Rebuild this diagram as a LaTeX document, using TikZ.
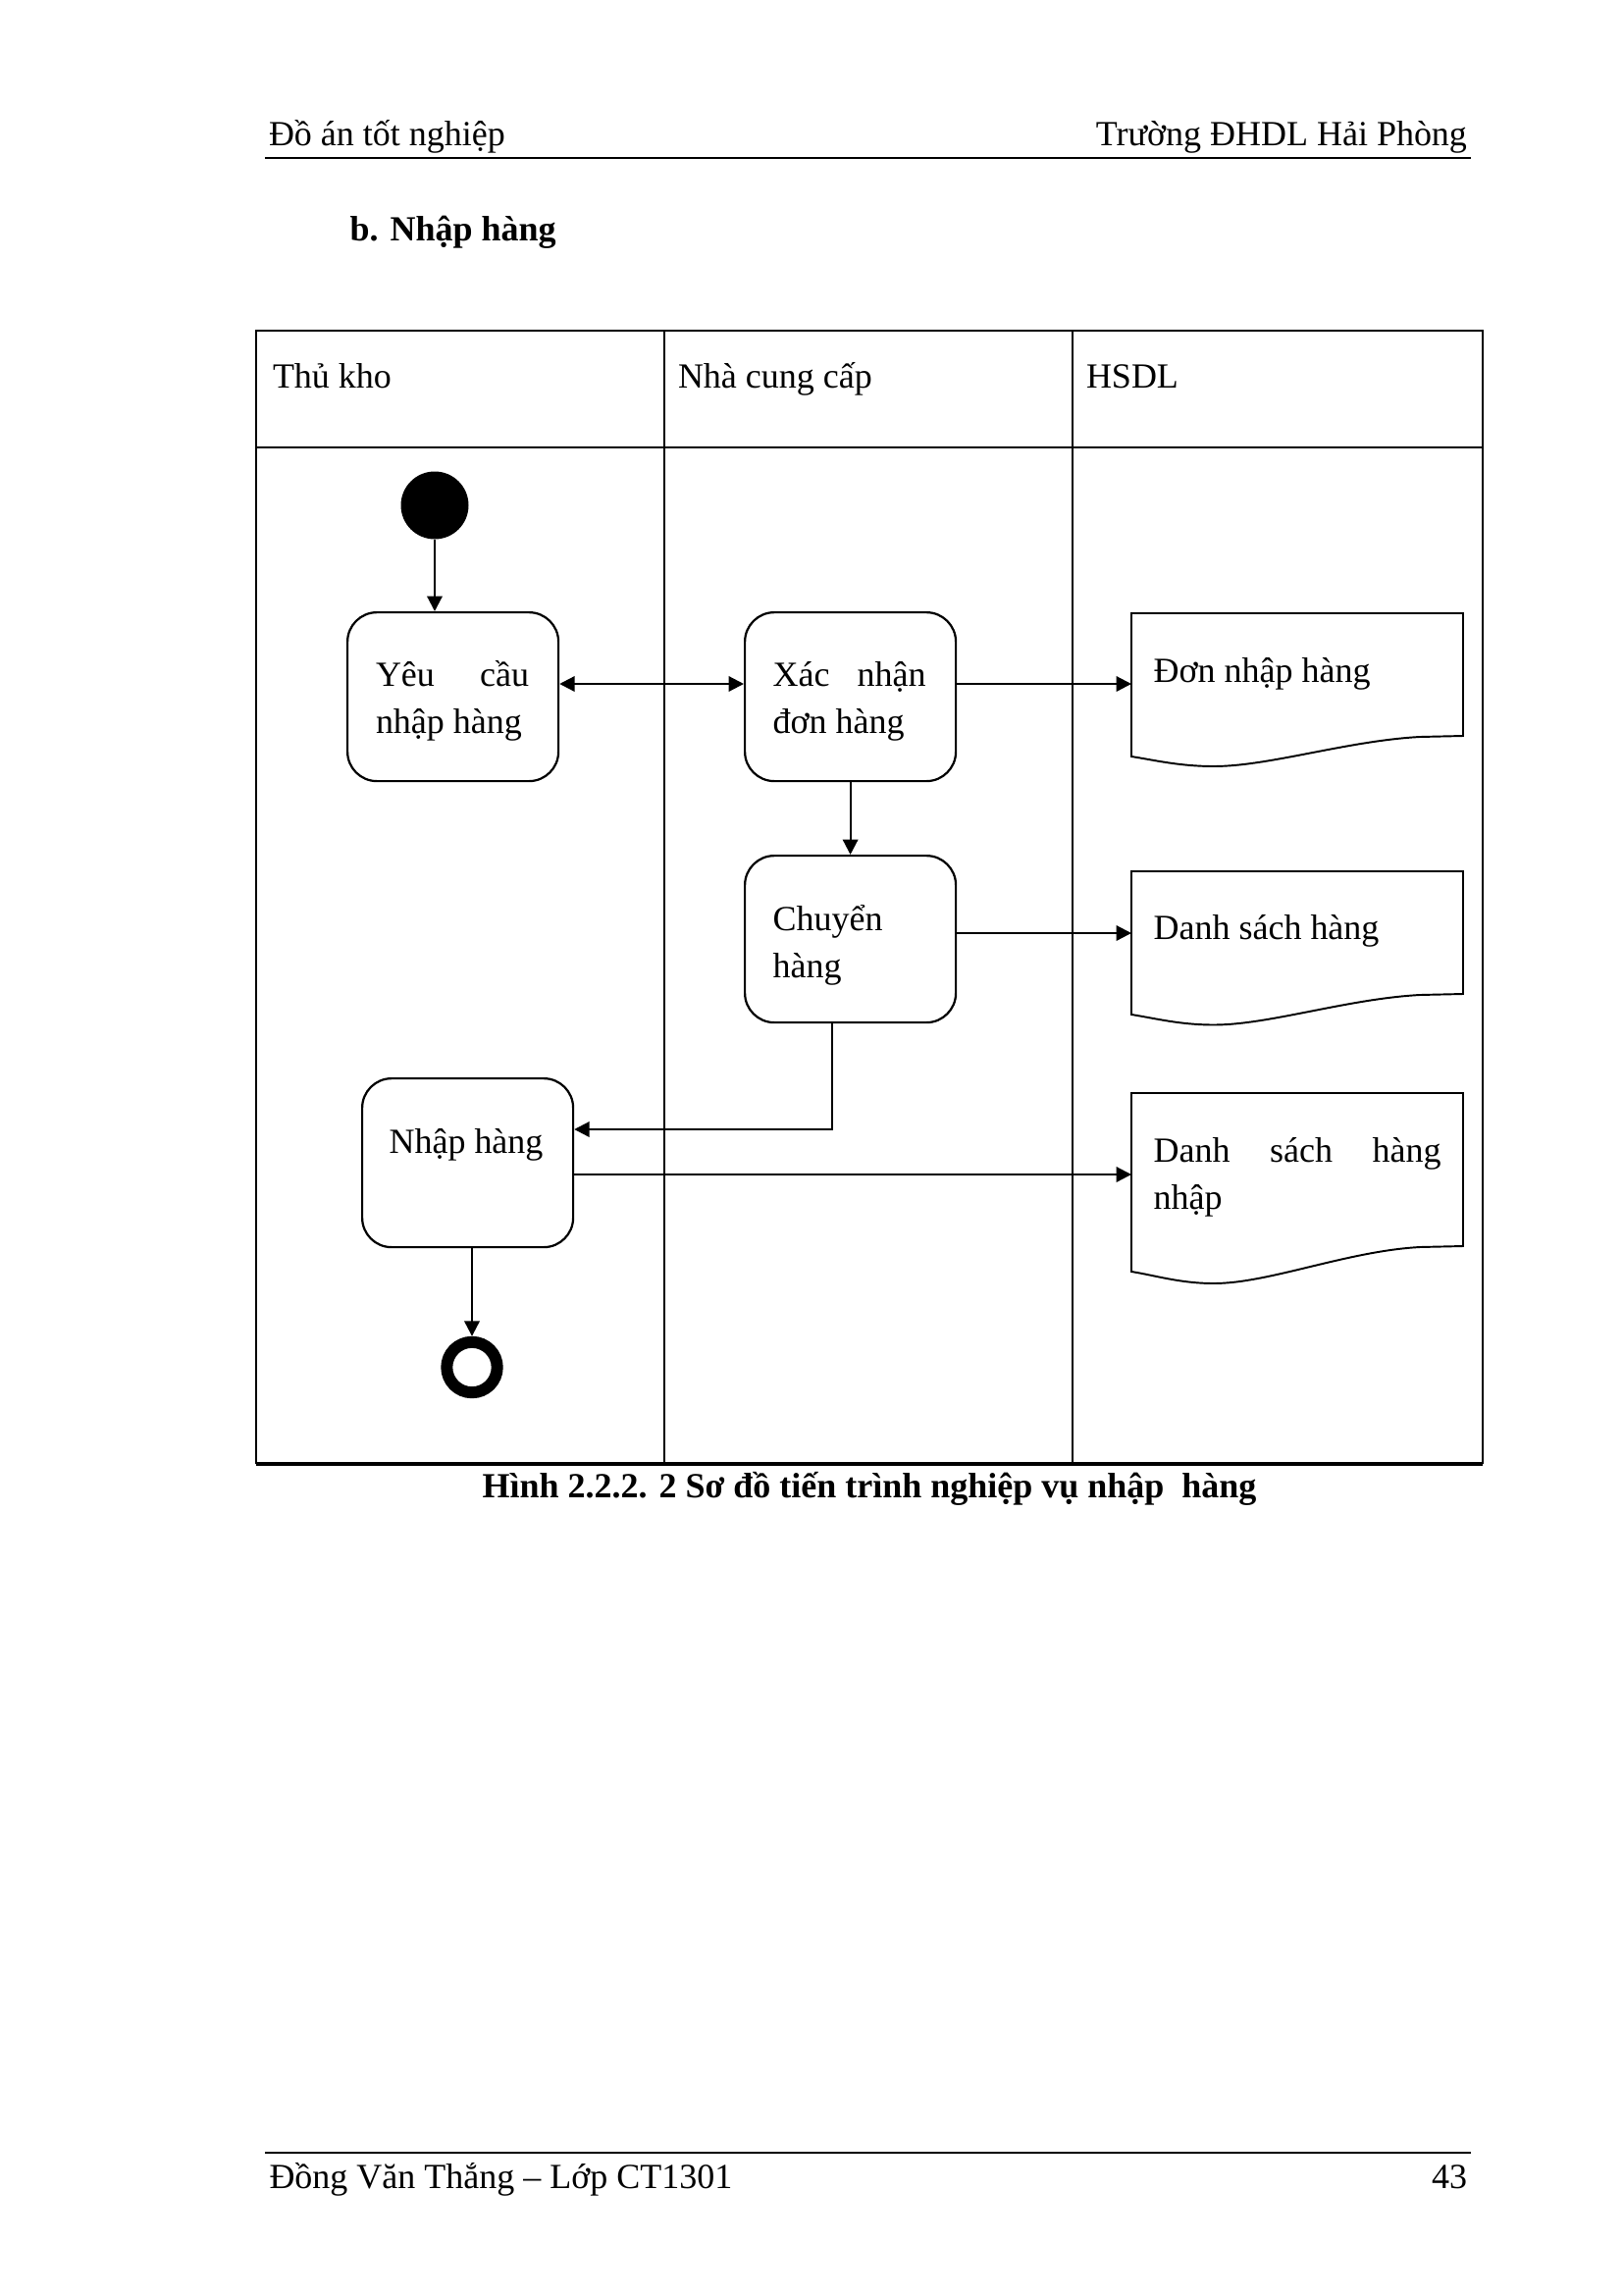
\documentclass[tikz,border=0pt]{standalone}
\usepackage{fontspec}
\setmainfont{Liberation Serif}
\usetikzlibrary{arrows.meta}
% one unit of the drawing grid (A4 page width split into 1654 steps)
\newlength\pxu
\setlength\pxu{0.126965mm}
\hyphenpenalty=10000
\exhyphenpenalty=10000
\tolerance=10000
\begin{document}
\begin{tikzpicture}[x=0.126965mm, y=-0.126965mm,
  txt/.style={font=\fontsize{13pt}{17.6pt}\selectfont, inner sep=0pt, outer sep=0pt},
  bold/.style={font=\fontsize{13pt}{17.6pt}\selectfont\bfseries, inner sep=0pt},
  para/.style={txt, text width=156\pxu, align=justify, anchor=base west},
  act/.style={draw, line width=0.8pt, rounded corners=30\pxu, minimum width=215\pxu,
              anchor=north west, inner sep=0pt},
  docbox/.style={minimum width=338\pxu, anchor=north west, inner sep=0pt, outer sep=0pt},
  docline/.style={line width=0.7pt, line join=miter},
  lane/.style={line width=0.75pt},
  tip/.tip={Triangle[length=5.6pt, width=5.6pt]},
  arr/.style={-tip, line width=0.8pt},
  arrboth/.style={tip-tip, line width=0.8pt}]

\useasboundingbox (0,0) rectangle (1654,2339);

% page header and footer
\node[txt, anchor=base west] (hl) at (274,149) {Đồ án tốt nghiệp};
\node[txt, anchor=base east] (hr) at (1495,149) {Trường ĐHDL Hải Phòng};
\draw[line width=0.5pt] (270,161) -- (1499,161);
\draw[line width=0.5pt] (270,2194) -- (1499,2194);
\node[txt, anchor=base west] (fl) at (274.5,2230) {Đồng Văn Thắng – Lớp CT1301};
\node[txt, anchor=base east] (fr) at (1495,2230) {43};

\node[bold, anchor=base west] (sec) at (356,245) {b. Nhập hàng};

% swimlane table
\draw[lane] (261,1492) -- (261,337) -- (1511,337) -- (1511,1492);
\draw[lane] (261,456) -- (1511,456);
\draw[lane] (677,337) -- (677,1492);
\draw[lane] (1093,337) -- (1093,1492);
\draw[line width=1.4pt] (261,1492) -- (1511,1492);

\node[txt, anchor=base west] (l1) at (278,395) {Thủ kho};
\node[txt, anchor=base west] (l2) at (691,395) {Nhà cung cấp};
\node[txt, anchor=base west] (l3) at (1107,395) {HSDL};

% initial and final states
\node[circle, fill, minimum size=69\pxu, inner sep=0pt] (start) at (443,515) {};
\node[circle, draw, line width=12\pxu, minimum size=51.4\pxu, inner sep=0pt] (stop) at (481,1393.5) {};

% activities
\node[act, minimum height=172\pxu] (yc) at (353,623) {};
\node[para] (yct) at (383,699) {Yêu cầu nhập hàng};

\node[act, minimum height=172\pxu] (xn) at (758,623) {};
\node[para] (xnt) at (787.6,699) {Xác nhận đơn hàng};

\node[act, minimum height=170\pxu] (ch) at (758,871) {};
\node[para] (cht) at (787.6,948) {Chuyển hàng};

\node[act, minimum height=172\pxu] (nh) at (368,1098) {};
\node[txt, anchor=base] (nht) at (475,1175) {Nhập hàng};

% documents
\node[docbox, minimum height=125\pxu] (d1) at (1153,625) {};
\node[docbox, minimum height=125\pxu] (d2) at (1153,888) {};
\node[docbox, minimum height=156\pxu] (d3) at (1153,1114) {};
\foreach \d/\hr/\hm/\hl in {d1/125/156/146, d2/125/156.5/146, d3/156/194/182}{
  \draw[docline, shift={(\d.north west)}]
    (0,0) -- (338,0) -- (338,\hr) -- (294,\hr+1)
    .. controls (220,\hr+5) and (140,\hm) .. (84,\hm)
    .. controls (50,\hm) and (25,\hl+4) .. (0,\hl) -- cycle;
}
\node[para, text width=293\pxu] (d1t) at (1175.6,695.5) {Đơn nhập hàng};
\node[para, text width=293\pxu] (d2t) at (1175.6,957) {Danh sách hàng};
\node[para, text width=293\pxu] (d3t) at (1175.6,1184) {Danh sách hàng nhập};

% flows
\coordinate (r1) at (0,697);
\coordinate (r2) at (0,951);
\coordinate (bend) at (848,1151);
\coordinate (r4) at (0,1197);

\draw[arr] (start.south) -- (start.south |- yc.north);
\draw[arrboth] (yc.east |- r1) -- (xn.west |- r1);
\draw[arr] (xn.east |- r1) -- (d1.west |- r1);
\draw[arr] (xn.south) -- (ch.north);
\draw[arr] (ch.east |- r2) -- (d2.west |- r2);
\draw[arr] (ch.south -| bend) -- (bend) -- (nh.east |- bend);
\draw[arr] (nh.east |- r4) -- (d3.west |- r4);
\draw[arr] (stop.north |- nh.south) -- (stop.north);

% caption
\node[bold, anchor=base] (cap) at (886,1526) {Hình 2.2.2. 2 Sơ đồ tiến trình nghiệp vụ nhập~ hàng};
\end{tikzpicture}
\end{document}
